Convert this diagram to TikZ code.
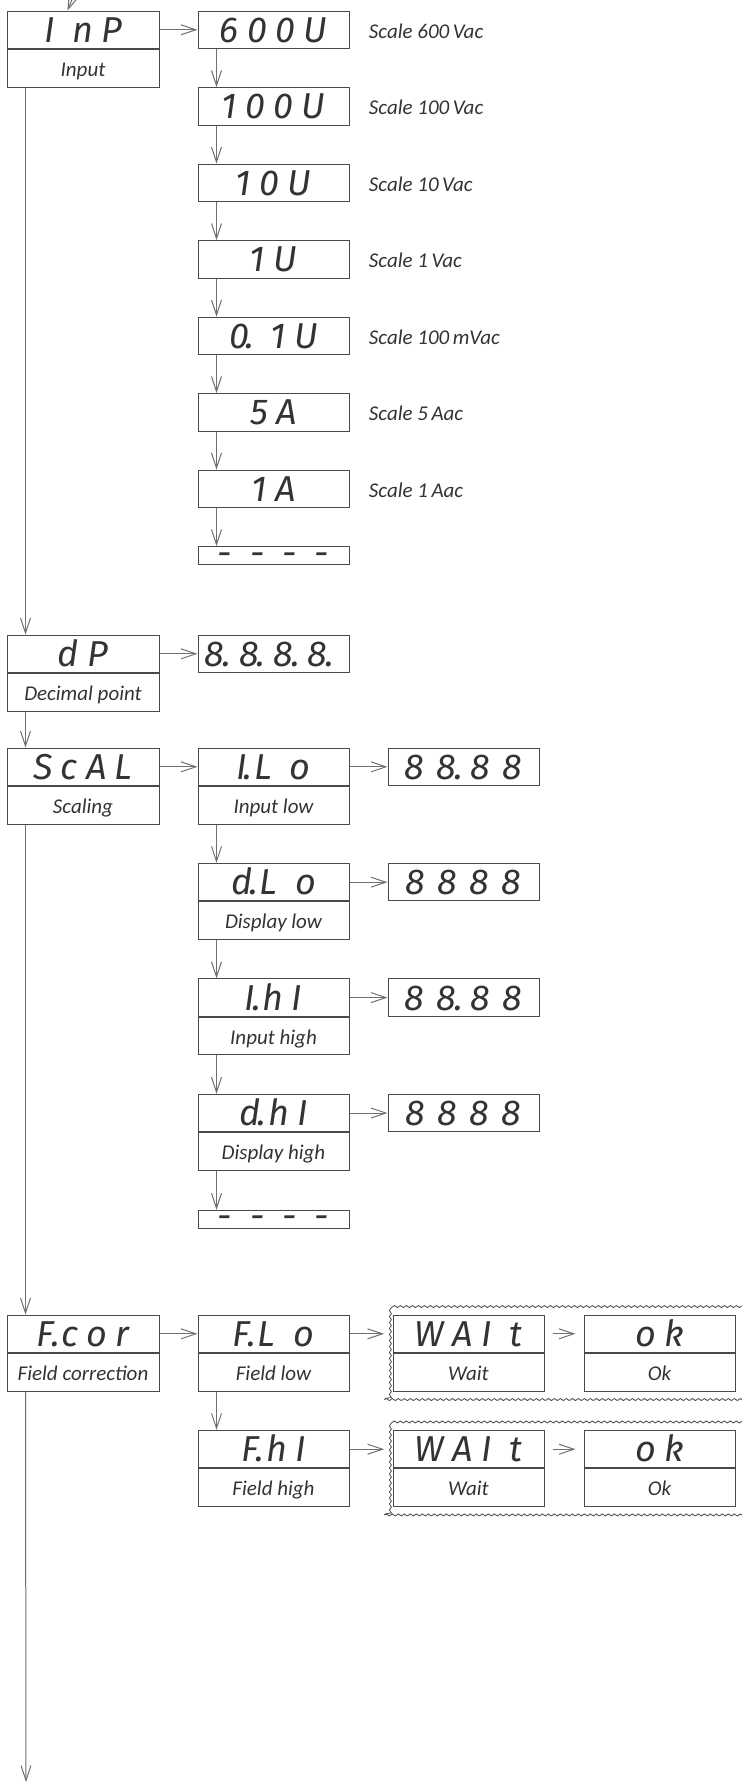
\documentclass[tikz,border=0pt]{standalone}
\usepackage{fontspec}
\newfontfamily\segfont{Fira Sans}[LetterSpace=23]
\newfontfamily\capfont{Carlito}
\usetikzlibrary{positioning,arrows.meta,fit,decorations.pathmorphing}
\definecolor{boxgray}{HTML}{4A4A4A}
\definecolor{linegray}{HTML}{707070}
\definecolor{txtgray}{HTML}{333333}
\newcommand\blank{\raisebox{-0.27em}{-\kern9pt-\kern9pt-\kern9pt-}}
\newcommand\dpt{\kern-1.5pt.\kern1pt}
\newcommand\ndpt{\kern-1pt.\kern4pt}

\begin{document}
\begin{tikzpicture}[
  x=1pt, y=-1pt,
  node distance = 19pt and 19pt,
  disp/.style    = {draw=boxgray, line width=0.5pt, minimum width=75.5pt,
                    minimum height=18.75pt, inner sep=0pt, text=txtgray,
                    font=\segfont\itshape\fontsize{18}{18}\selectfont,
                    text height=12.4pt, text depth=0pt},
  numbox/.style  = {disp, font=\segfont\itshape\fontsize{18}{18}\selectfont\addfontfeature{LetterSpace=34}},
  dashbox/.style = {disp, minimum height=9pt, text height=0pt},
  capt/.style    = {draw=boxgray, line width=0.5pt, minimum width=75.5pt,
                    minimum height=18.75pt, inner sep=0pt, text=txtgray,
                    font=\capfont\itshape\fontsize{10.5}{12}\selectfont,
                    text height=8pt, text depth=0pt},
  note/.style    = {text=txtgray, inner sep=0pt,
                    font=\capfont\itshape\fontsize{10.5}{12}\selectfont,
                    text height=8.5pt, text depth=0pt},
  group/.style   = {draw=boxgray, line width=0.4pt, inner sep=4pt, decorate,
                    decoration={snake, amplitude=0.5pt, segment length=3pt}},
  arr/.style     = {-{Straight Barb[length=7.5pt, width=5pt]}, line width=0.5pt, linegray},
]
\useasboundingbox (0,0) rectangle (371,891);

% main menu column
\node[disp, minimum width=76pt] (inp) at (41.5,14.9) {I nP};
\node[capt, minimum width=76pt, below=0pt of inp] (inp-c) {Input};
\node[disp, minimum width=76pt] (dp) at (41.5,326.9) {dP};
\node[capt, minimum width=76pt, below=0pt of dp] (dp-c) {Decimal point};
\node[disp, minimum width=76pt] (scal) at (41.5,383.4) {ScAL};
\node[capt, minimum width=76pt, below=0pt of scal] (scal-c) {Scaling};
\node[disp, minimum width=76pt] (fcor) at (41.5,666.9) {F\dpt cor};
\node[capt, minimum width=76pt, below=0pt of fcor] (fcor-c) {Field correction};
\coordinate (entry) at (40,-10);
\coordinate (exit) at (13,891);

% input ranges
\node[disp, right=of inp] (v600) {600U};
\node[disp, below=of v600] (v100) {100U};
\node[disp, below=of v100] (v10) {10U};
\node[disp, below=of v10] (v1) {1U};
\node[disp, below=of v1] (v01) {0\dpt\kern7pt 1U};
\node[disp, below=of v01] (a5) {5A};
\node[disp, below=of a5] (a1) {1A};
\node[dashbox, below=of a1] (inp-end) {\blank};
\node[note, right=9.5pt of v600] (s600) {Scale 600\,Vac};
\node[note, right=9.5pt of v100] (s100) {Scale 100\,Vac};
\node[note, right=9.5pt of v10] (s10) {Scale 10\,Vac};
\node[note, right=9.5pt of v1] (s1) {Scale 1\,Vac};
\node[note, right=9.5pt of v01] (s01) {Scale 100\,mVac};
\node[note, right=9.5pt of a5] (sa5) {Scale 5\,Aac};
\node[note, right=9.5pt of a1] (sa1) {Scale 1\,Aac};

% decimal point
\node[numbox, right=of dp] (dp-v) {8\ndpt 8\ndpt 8\ndpt 8\ndpt};

% scaling
\node[disp, right=of scal] (ilo) {I\dpt L o};
\node[capt, below=0pt of ilo] (ilo-c) {Input low};
\node[disp, below=19.2pt of ilo-c] (dlo) {d\dpt L o};
\node[capt, below=0pt of dlo] (dlo-c) {Display low};
\node[disp, below=19.2pt of dlo-c] (ihi) {I\dpt hI};
\node[capt, below=0pt of ihi] (ihi-c) {Input high};
\node[disp, below=19.2pt of ihi-c] (dhi) {d\dpt hI};
\node[capt, below=0pt of dhi] (dhi-c) {Display high};
\node[dashbox, below=19.5pt of dhi-c] (scal-end) {\blank};
\node[numbox, right=of ilo] (ilo-v) {88\ndpt 88};
\node[numbox, right=of dlo] (dlo-v) {8888};
\node[numbox, right=of ihi] (ihi-v) {88\ndpt 88};
\node[numbox, right=of dhi] (dhi-v) {8888};

% field correction
\node[disp, right=of fcor] (flo) {F\dpt L o};
\node[capt, below=0pt of flo] (flo-c) {Field low};
\node[disp, below=19.2pt of flo-c] (fhi) {F\dpt hI};
\node[capt, below=0pt of fhi] (fhi-c) {Field high};
\node[disp, right=21.5pt of flo] (wt1) {WAI t};
\node[capt, below=0pt of wt1] (wt1-c) {Wait};
\node[disp, right=19.5pt of wt1] (ok1) {ok};
\node[capt, below=0pt of ok1] (ok1-c) {Ok};
\node[group, fit=(wt1)(ok1-c)] (grp1) {};
\node[disp, right=21.5pt of fhi] (wt2) {WAI t};
\node[capt, below=0pt of wt2] (wt2-c) {Wait};
\node[disp, right=19.5pt of wt2] (ok2) {ok};
\node[capt, below=0pt of ok2] (ok2-c) {Ok};
\node[group, fit=(wt2)(ok2-c)] (grp2) {};

% connectors
\draw[arr] (entry) -- ([xshift=30.5pt]inp.north west);
\draw[arr] ([xshift=9.5pt]inp-c.south west) -- ([xshift=9.5pt]dp.north west);
\draw[arr] ([xshift=9.5pt]dp-c.south west) -- ([xshift=9.5pt]scal.north west);
\draw[arr] ([xshift=9.5pt]scal-c.south west) -- ([xshift=9.5pt]fcor.north west);
\draw[arr] ([xshift=9.5pt]fcor-c.south west) -- (exit);

\draw[arr] (inp) -- (v600);
\draw[arr] ([xshift=9.5pt]v600.south west) -- ([xshift=9.5pt]v100.north west);
\draw[arr] ([xshift=9.5pt]v100.south west) -- ([xshift=9.5pt]v10.north west);
\draw[arr] ([xshift=9.5pt]v10.south west) -- ([xshift=9.5pt]v1.north west);
\draw[arr] ([xshift=9.5pt]v1.south west) -- ([xshift=9.5pt]v01.north west);
\draw[arr] ([xshift=9.5pt]v01.south west) -- ([xshift=9.5pt]a5.north west);
\draw[arr] ([xshift=9.5pt]a5.south west) -- ([xshift=9.5pt]a1.north west);
\draw[arr] ([xshift=9.5pt]a1.south west) -- ([xshift=9.5pt]inp-end.north west);

\draw[arr] (dp) -- (dp-v);

\draw[arr] (scal) -- (ilo);
\draw[arr] ([xshift=9.5pt]ilo-c.south west) -- ([xshift=9.5pt]dlo.north west);
\draw[arr] ([xshift=9.5pt]dlo-c.south west) -- ([xshift=9.5pt]ihi.north west);
\draw[arr] ([xshift=9.5pt]ihi-c.south west) -- ([xshift=9.5pt]dhi.north west);
\draw[arr] ([xshift=9.5pt]dhi-c.south west) -- ([xshift=9.5pt]scal-end.north west);
\draw[arr] (ilo) -- (ilo-v);
\draw[arr] (dlo) -- (dlo-v);
\draw[arr] (ihi) -- (ihi-v);
\draw[arr] (dhi) -- (dhi-v);

\draw[arr] (fcor) -- (flo);
\draw[arr] ([xshift=9.5pt]flo-c.south west) -- ([xshift=9.5pt]fhi.north west);
\draw[arr] (flo.east) -- (flo.east -| grp1.west);
\draw[arr] (fhi.east) -- (fhi.east -| grp2.west);
\draw[arr] ([xshift=4pt]wt1.east) -- ([xshift=-4pt]ok1.west);
\draw[arr] ([xshift=4pt]wt2.east) -- ([xshift=-4pt]ok2.west);

\end{tikzpicture}
\end{document}
